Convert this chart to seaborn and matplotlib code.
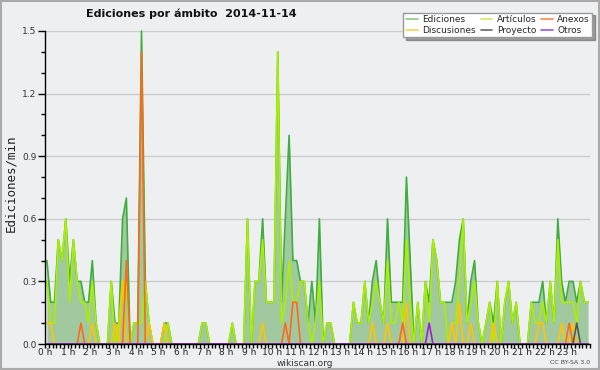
import numpy as np
import pandas as pd
import matplotlib
matplotlib.use("Agg")
import matplotlib.pyplot as plt
import seaborn as sns
from matplotlib.ticker import MultipleLocator
from matplotlib.lines import Line2D
from matplotlib.patches import Rectangle

# ediciones por minuto, un valor por cada tramo de 10 minutos (144 tramos)
ediciones = [
    0.4, 0.2, 0.2, 0.5, 0.4, 0.6, 0.3, 0.5, 0.3, 0.3, 0.2, 0.2,
    0.4, 0.1, 0, 0, 0, 0.3, 0.1, 0.1, 0.6, 0.7, 0, 0.1,
    0.1, 1.5, 0.3, 0.1, 0, 0, 0, 0.1, 0.1, 0, 0, 0,
    0, 0, 0, 0, 0, 0.1, 0.1, 0, 0, 0, 0, 0,
    0, 0.1, 0, 0, 0, 0.6, 0, 0.3, 0.3, 0.6, 0.2, 0.2,
    0.2, 1.4, 0.2, 0.6, 1.0, 0.4, 0.4, 0.3, 0.3, 0.1, 0.3, 0.1,
    0.6, 0, 0.1, 0.1, 0, 0, 0, 0, 0, 0.2, 0.1, 0.1,
    0.3, 0.1, 0.3, 0.4, 0.2, 0.1, 0.6, 0.2, 0.2, 0.2, 0.2, 0.8,
    0.4, 0, 0.2, 0, 0.3, 0.2, 0.5, 0.4, 0.2, 0.2, 0.2, 0.2,
    0.3, 0.5, 0.6, 0.1, 0.3, 0.4, 0.1, 0, 0.1, 0.2, 0.1, 0.3,
    0, 0.2, 0.3, 0.1, 0.2, 0, 0, 0, 0.2, 0.2, 0.2, 0.3,
    0.1, 0.3, 0.1, 0.6, 0.3, 0.2, 0.3, 0.3, 0.2, 0.3, 0.2, 0.2,
]
articulos = [
    0.3, 0.1, 0.1, 0.5, 0.4, 0.6, 0.2, 0.5, 0.3, 0.2, 0.2, 0.1,
    0.3, 0.1, 0, 0, 0, 0.3, 0, 0.1, 0.3, 0.3, 0, 0.1,
    0.1, 0.1, 0.3, 0.1, 0, 0, 0, 0, 0.1, 0, 0, 0,
    0, 0, 0, 0, 0, 0.1, 0.1, 0, 0, 0, 0, 0,
    0, 0.1, 0, 0, 0, 0.6, 0, 0.3, 0.3, 0.5, 0.2, 0.2,
    0.2, 1.4, 0.1, 0.2, 0.4, 0.2, 0.2, 0.3, 0.3, 0.1, 0, 0.1,
    0.3, 0, 0.1, 0.1, 0, 0, 0, 0, 0, 0.2, 0.1, 0.1,
    0.3, 0.1, 0.2, 0.3, 0.2, 0.1, 0.4, 0.1, 0.1, 0.2, 0.1, 0.5,
    0.2, 0, 0.2, 0, 0.3, 0.1, 0.5, 0.4, 0.2, 0.2, 0, 0.1,
    0.1, 0.3, 0.6, 0.1, 0.2, 0.3, 0.1, 0, 0.1, 0.2, 0, 0.3,
    0, 0.2, 0.3, 0.1, 0.2, 0, 0, 0, 0.2, 0.1, 0.1, 0.2,
    0.1, 0.3, 0.1, 0.5, 0.2, 0.2, 0.2, 0.2, 0.1, 0.3, 0.2, 0.2,
]
discusiones = [
    0.1, 0.1, 0, 0, 0, 0, 0, 0, 0, 0, 0, 0,
    0.1, 0, 0, 0, 0, 0, 0.1, 0, 0.3, 0, 0, 0,
    0, 0, 0, 0.1, 0, 0, 0, 0.1, 0, 0, 0, 0,
    0, 0, 0, 0, 0, 0, 0, 0, 0, 0, 0, 0,
    0, 0, 0, 0, 0, 0, 0, 0, 0, 0.1, 0, 0,
    0, 0, 0, 0, 0, 0, 0, 0, 0, 0, 0, 0,
    0, 0, 0, 0, 0, 0, 0, 0, 0, 0, 0, 0,
    0, 0, 0.1, 0, 0, 0, 0.1, 0, 0, 0, 0, 0.2,
    0, 0, 0, 0, 0, 0, 0, 0, 0, 0, 0, 0.1,
    0, 0.2, 0, 0, 0.1, 0, 0, 0, 0, 0, 0.1, 0,
    0, 0, 0, 0, 0, 0, 0, 0, 0, 0, 0.1, 0.1,
    0, 0, 0, 0, 0.1, 0, 0, 0.1, 0, 0, 0, 0,
]
anexos = [
    0, 0, 0, 0, 0, 0, 0, 0, 0, 0.1, 0, 0,
    0, 0, 0, 0, 0, 0, 0, 0, 0, 0.4, 0, 0,
    0, 1.4, 0, 0, 0, 0, 0, 0, 0, 0, 0, 0,
    0, 0, 0, 0, 0, 0, 0, 0, 0, 0, 0, 0,
    0, 0, 0, 0, 0, 0, 0, 0, 0, 0, 0, 0,
    0, 0, 0, 0.1, 0, 0.2, 0.2, 0, 0, 0, 0, 0,
    0, 0, 0, 0, 0, 0, 0, 0, 0, 0, 0, 0,
    0, 0, 0, 0, 0, 0, 0, 0, 0, 0, 0.1, 0,
    0, 0, 0, 0, 0, 0, 0, 0, 0, 0, 0, 0,
    0, 0, 0, 0, 0, 0, 0, 0, 0, 0, 0, 0,
    0, 0, 0, 0, 0, 0, 0, 0, 0, 0, 0, 0,
    0, 0, 0, 0, 0, 0, 0.1, 0, 0, 0, 0, 0,
]
proyecto = [0] * 140 + [0.1, 0, 0, 0]
otros = [0] * 101 + [0.1] + [0] * 42

# centro de cada tramo de 10 minutos, en horas
horas = [(i + 0.5) / 6 for i in range(144)]

orden = ["Ediciones", "Artículos", "Discusiones", "Anexos", "Proyecto", "Otros"]
colores = {
    "Ediciones": "#3fae3f",
    "Artículos": "#aaee00",
    "Discusiones": "#ffc400",
    "Anexos": "#ff6a1a",
    "Proyecto": "#555555",
    "Otros": "#9a22d0",
}
colores_leyenda = {
    "Ediciones": "#88cc88",
    "Artículos": "#ccee66",
    "Discusiones": "#ffd24d",
    "Anexos": "#ff8855",
    "Proyecto": "#666666",
    "Otros": "#9955dd",
}

df = pd.DataFrame({
    "hora": horas,
    "Ediciones": ediciones,
    "Artículos": articulos,
    "Discusiones": discusiones,
    "Anexos": anexos,
    "Proyecto": proyecto,
    "Otros": otros,
})
largo = df.melt(id_vars="hora", var_name="ambito", value_name="valor")

BG = "#eeeff1"
sns.set_theme(style="white")
plt.rcParams["font.family"] = ["DejaVu Sans"]

fig = plt.figure(figsize=(6, 3.7), dpi=100, facecolor=BG)
ax = fig.add_axes([45 / 600, 26 / 370, 545 / 600, 313 / 370])
ax.set_facecolor(BG)

ax.fill_between(df["hora"], df["Ediciones"], color="#a0c9a0", lw=0, zorder=1)
sns.lineplot(data=largo, x="hora", y="valor", hue="ambito", hue_order=orden,
             palette=colores, legend=False, ax=ax, linewidth=1.2,
             estimator=None, sort=False)
for l in ax.lines:
    l.set_clip_on(False)

ax.set_xlim(0, 24)
ax.set_ylim(0, 1.5)
ax.set_xlabel("")
ax.set_ylabel("")

ax.set_yticks([0, 0.3, 0.6, 0.9, 1.2, 1.5])
ax.set_yticklabels(["0.0", "0.3", "0.6", "0.9", "1.2", "1.5"])
ax.yaxis.set_minor_locator(MultipleLocator(0.1))
ax.set_xticks(range(24))
ax.set_xticklabels([f"{h} h" for h in range(24)])
ax.xaxis.set_minor_locator(MultipleLocator(1 / 6))

ax.tick_params(axis="y", which="major", length=5, width=1, color="black",
               labelsize=6.5, labelcolor="#333333", pad=1, direction="out", left=True)
ax.tick_params(axis="y", which="minor", length=3, width=1, color="black", left=True)
ax.tick_params(axis="x", which="both", length=3, width=1, color="black",
               labelsize=6.5, labelcolor="#222222", pad=0, direction="out", bottom=True)

ax.yaxis.grid(True, color="#cccccc", lw=1)
ax.xaxis.grid(False)
ax.set_axisbelow(True)
for s in ["top", "right"]:
    ax.spines[s].set_visible(False)
for s in ["left", "bottom"]:
    ax.spines[s].set_color("black")
    ax.spines[s].set_linewidth(1)

fig.text(0.143, 0.962, "Ediciones por ámbito  2014-11-14", fontsize=8,
         fontweight="bold", color="#111111", va="center", ha="left")
fig.text(0.018, 0.505, "Ediciones/min", rotation=90, family="DejaVu Sans Mono",
         fontsize=9, va="center", ha="center", color="#222222")
fig.text(0.508, 0.018, "wikiscan.org", fontsize=6.5, ha="center", va="center",
         color="#333333")
fig.text(0.983, 0.020, "CC BY-SA 3.0", fontsize=4.5, ha="right", va="center",
         color="#444444")

# leyenda en 3 columnas, se llena por columnas
orden_leyenda = ["Ediciones", "Discusiones", "Artículos", "Proyecto", "Anexos", "Otros"]
handles = [Line2D([], [], color=colores_leyenda[k], lw=1.2) for k in orden_leyenda]
leg = fig.legend(handles, orden_leyenda, ncol=3, loc="upper right",
                 bbox_to_anchor=(0.995, 0.978), fontsize=6.5, frameon=True,
                 fancybox=False, shadow=True, edgecolor="#999999",
                 handlelength=1.3, columnspacing=0.5, labelspacing=0.15,
                 borderpad=0.3, handletextpad=0.5)
leg.get_frame().set_facecolor("white")

fig.patches.append(Rectangle((0.002, 0.003), 0.996, 0.994, transform=fig.transFigure,
                             fill=False, ec="#aaaaaa", lw=1.5))

fig.savefig("out.png", dpi=100, facecolor=BG)
